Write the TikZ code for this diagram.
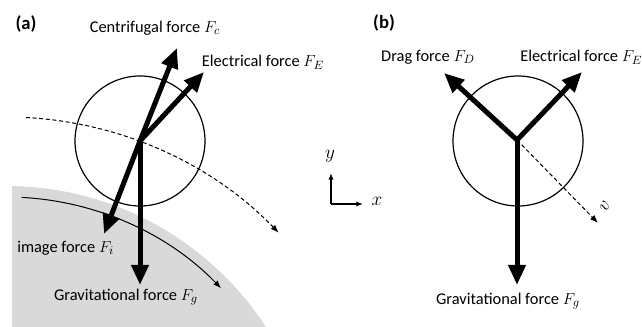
\documentclass[tikz,border=0pt]{standalone}
\usepackage{fontspec}
\setmainfont{Carlito}
\usetikzlibrary{arrows.meta,calc}
\begin{document}
\begin{tikzpicture}[x=0.75pt,y=0.75pt,
  force/.style={line width=3.75pt,-{Triangle[length=15pt,width=12.5pt]}},
  thinarrow/.style={line width=0.75pt,-{Latex[length=6pt,width=4.5pt]}},
  axisarrow/.style={line width=1.1pt,-{Latex[length=5pt,width=4pt]}},
  dashline/.style={dash pattern=on 3pt off 2pt},
  lbl/.style={font=\fontsize{12.3}{14}\selectfont, inner sep=0pt},
  panel/.style={font=\fontsize{14}{16}\selectfont\bfseries, inner sep=0pt},
  particle/.style={circle,draw,line width=0.9pt,minimum size=97.5pt,inner sep=0pt}]
\useasboundingbox (0,0) rectangle (642,327);

% ---------- panel (a) ----------
\coordinate (C) at (6,-169);
\begin{scope}
  \clip (12,0) rectangle (642,327);
  \fill[black!15] (C) circle[radius=310];
\end{scope}
\draw[thinarrow] ($(C)+(87:299)$) arc[start angle=87,end angle=44,radius=299];
\draw[thinarrow,dashline] ($(C)+(87:379)$) arc[start angle=87,end angle=44,radius=379];

\node[particle] (pa) at (140,186) {};
\coordinate (Oa) at (140,186);
\coordinate (Fca) at (177,279);
\coordinate (FEa) at (204,255);
\coordinate (Fia) at (104,93);
\coordinate (Fga) at (140,42);
\draw[force] (Oa) -- (Fca);
\draw[force] (Oa) -- (FEa);
\draw[force] (Oa) -- (Fia);
\draw[force] (Oa) -- (Fga);

\node[panel] (la) at (26,303) {(a)};
\node[lbl] (tFc) at (155,299) {Centrifugal force $F_c$};
\node[lbl] (tFEa) at (263,265) {Electrical force $F_E$};
\node[lbl,anchor=west] (tFi) at (17,79) {image force $F_i$};
\node[lbl] (tFga) at (126,30) {Gravitational force $F_g$};

% ---------- axes ----------
\coordinate (ax0) at (331,123);
\coordinate (axy) at (331,154);
\coordinate (axx) at (363,123);
\draw[axisarrow] (ax0) -- (axy);
\draw[axisarrow] (ax0) -- (axx);
\node[font=\fontsize{15}{17}\selectfont, inner sep=0pt] (ly) at (330,171) {$y$};
\node[font=\fontsize{15}{17}\selectfont, inner sep=0pt] (lx) at (377,126) {$x$};

% ---------- panel (b) ----------
\node[particle] (pb) at (518,186) {};
\coordinate (Ob) at (517,187);
\coordinate (FDb) at (444,254);
\coordinate (FEb) at (582,255);
\coordinate (Fgb) at (517,42);
\coordinate (vb) at (598,104);
\draw[thinarrow,dashline] (Ob) -- (vb);
\draw[force] (Ob) -- (FDb);
\draw[force] (Ob) -- (FEb);
\draw[force] (Ob) -- (Fgb);

\node[panel] (lb) at (384,304) {(b)};
\node[lbl] (tFD) at (428,270) {Drag force $F_D$};
\node[lbl,anchor=west] (tFEb) at (520,270) {Electrical force $F_E$};
\node[lbl] (tFgb) at (508,26) {Gravitational force $F_g$};
\node[font=\fontsize{15}{17}\selectfont, inner sep=0pt, rotate=60] (lv) at (605,121) {$v$};
\end{tikzpicture}
\end{document}
